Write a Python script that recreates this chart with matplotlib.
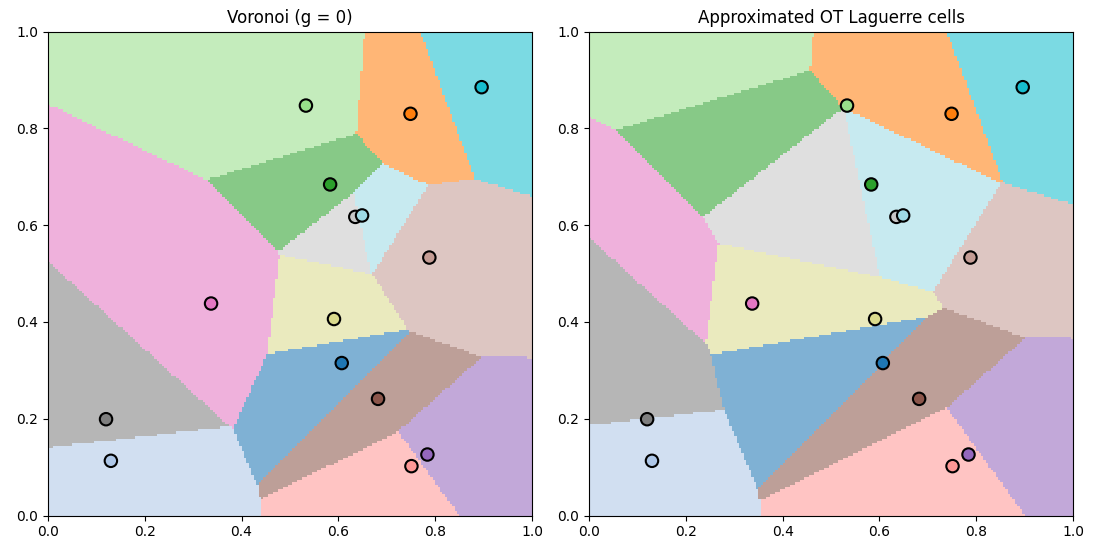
import numpy as np
import matplotlib
matplotlib.use('Agg')
import matplotlib.pyplot as plt

# point positions, in label order (colour = tab20(i/14))
xs = [0.607, 0.130, 0.749, 0.583, 0.533, 0.751, 0.784, 0.682,
      0.788, 0.337, 0.120, 0.635, 0.591, 0.896, 0.649]
ys = [0.315, 0.113, 0.830, 0.684, 0.847, 0.102, 0.126, 0.241,
      0.533, 0.438, 0.199, 0.617, 0.406, 0.885, 0.620]

# Laguerre weights (right panel), left panel uses g = 0
g = [0.0263, -0.0571, 0.0159, -0.0057, -0.0664, 0.0491, 0.0457, 0.0377,
     0.0131, -0.0887, -0.0650, 0.0288, 0.0201, 0.0247, 0.0307]

n = 200
pts = np.c_[xs, ys]
t = (np.arange(n) + 0.5) / n
GX, GY = np.meshgrid(t, t)
grid = np.c_[GX.ravel(), GY.ravel()]
D = ((grid[:, None, :] - pts[None, :, :])**2).sum(-1)

fig, axes = plt.subplots(1, 2, figsize=(11, 5.5))
for ax, w, title in zip(axes, [np.zeros(len(xs)), np.array(g)],
                        ['Voronoi (g = 0)', 'Approximated OT Laguerre cells']):
    lab = np.argmin(D - w, axis=1).reshape(n, n)
    ax.imshow(lab, origin='lower', extent=[0, 1, 0, 1], cmap='tab20',
              vmin=0, vmax=len(xs) - 1, alpha=0.57, interpolation='nearest')
    ax.scatter(xs, ys, c=range(len(xs)), cmap='tab20', s=80,
               edgecolors='k', linewidths=1.5, zorder=3)
    ax.set_xlim(0, 1)
    ax.set_ylim(0, 1)
    ax.set_title(title)
fig.subplots_adjust(left=0.0436, right=0.9755, top=0.9436, bottom=0.0618, wspace=0.118)
fig.savefig('out.png', dpi=100)
